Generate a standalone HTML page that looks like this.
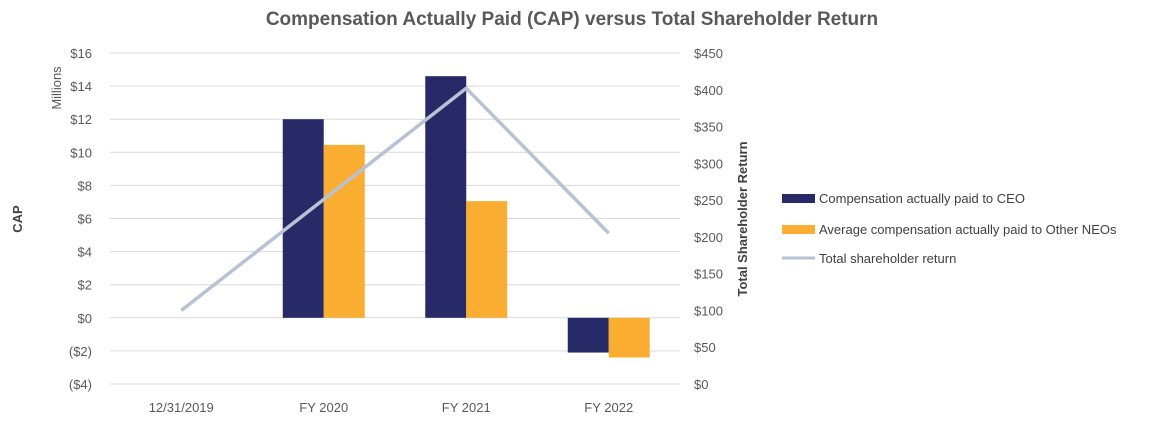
<!DOCTYPE html>
<html><head><meta charset="utf-8"><style>
html,body{margin:0;padding:0;background:#fff;}
svg{display:block;font-family:"Liberation Sans",sans-serif;}
</style></head><body>
<svg id="chart" width="1152" height="423" viewBox="0 0 1152 423">
<text x="572" y="25" text-anchor="middle" font-size="19" font-weight="bold" fill="#595959">Compensation Actually Paid (CAP) versus Total Shareholder Return</text>
<text transform="translate(61,88) rotate(-90)" text-anchor="middle" font-size="13" fill="#595959">Millions</text>
<text transform="translate(22,219) rotate(-90)" text-anchor="middle" font-size="13" font-weight="bold" fill="#404040">CAP</text>
<text transform="translate(747,219) rotate(-90)" text-anchor="middle" font-size="13" font-weight="bold" fill="#404040">Total Shareholder Return</text>
<g id="grid"></g><g id="bars"></g><g id="line"></g><g id="ticks"></g>
<g>
<rect x="782" y="194" width="33" height="9" fill="#282a67"/>
<text x="819" y="203" font-size="13" fill="#404040">Compensation actually paid to CEO</text>
<rect x="782" y="225" width="33" height="9" fill="#f9ae32"/>
<text x="819" y="234" font-size="13" fill="#404040">Average compensation actually paid to Other NEOs</text>
<line x1="782" y1="258" x2="815" y2="258" stroke="#b8c2d4" stroke-width="3"/>
<text x="819" y="263" font-size="13" fill="#404040">Total shareholder return</text>
</g>
</svg>
<script>
const categories = ["12/31/2019","FY 2020","FY 2021","FY 2022"];
const ceoCap = [null, 12.0, 14.6, -2.1];
const neoCap = [null, 10.45, 7.05, -2.4];
const tsr = [100, 251, 402, 205];
const leftTicks = ["$16","$14","$12","$10","$8","$6","$4","$2","$0","($2)","($4)"];
const leftTickValues = [16,14,12,10,8,6,4,2,0,-2,-4];
const rightTickValues = [450,400,350,300,250,200,150,100,50,0];

const NS="http://www.w3.org/2000/svg";
const plotTop=53, plotBot=384, xL=110, xR=680;
const yL = v => plotTop + (16 - v) / 20 * (plotBot - plotTop);
const yR = v => plotBot - v / 450 * (plotBot - plotTop);
const band = (xR - xL) / categories.length;
const xC = i => xL + band * (i + 0.5);
const barW = 41;
function mk(tag, attrs, parent){const e=document.createElementNS(NS,tag);for(const k in attrs)e.setAttribute(k,attrs[k]);parent.appendChild(e);return e;}
const grid=document.getElementById('grid'), bars=document.getElementById('bars'), line=document.getElementById('line'), ticks=document.getElementById('ticks');
leftTickValues.forEach((v,i)=>{
  const y=yL(v);
  const g=mk('line',{x1:xL,x2:xR,y1:y,y2:y,stroke:'#d9d9d9','stroke-width':1},grid);
  
  
  const t=mk('text',{x:92,y:y+5,'text-anchor':'end','font-size':13,fill:'#595959'},ticks);
  t.textContent=leftTicks[i];
  
  
});
rightTickValues.forEach(v=>{
  const t=mk('text',{x:694,y:yR(v)+5,'font-size':13,fill:'#595959'},ticks);
  t.textContent='$'+v;
  
  
});
categories.forEach((c,i)=>{
  const t=mk('text',{x:xC(i),y:412,'text-anchor':'middle','font-size':13,fill:'#595959'},ticks);
  t.textContent=c;
  
  
  [[ceoCap,'#282a67',-barW,'bar-ceo'],[neoCap,'#f9ae32',0,'bar-neo']].forEach(([arr,col,off,nm])=>{
    const v=arr[i]; if(v===null) return;
    const y0=yL(0), y1=yL(v);
    const r=mk('rect',{x:xC(i)+off,y:Math.min(y0,y1),width:barW,height:Math.abs(y1-y0),fill:col},bars);
    
    
  });
});
const pl=mk('polyline',{points:tsr.map((v,i)=>xC(i)+','+yR(v)).join(' '),fill:'none',stroke:'#b8c2d4','stroke-width':3.5,'stroke-linejoin':'round'},line);


</script>
</body></html>
